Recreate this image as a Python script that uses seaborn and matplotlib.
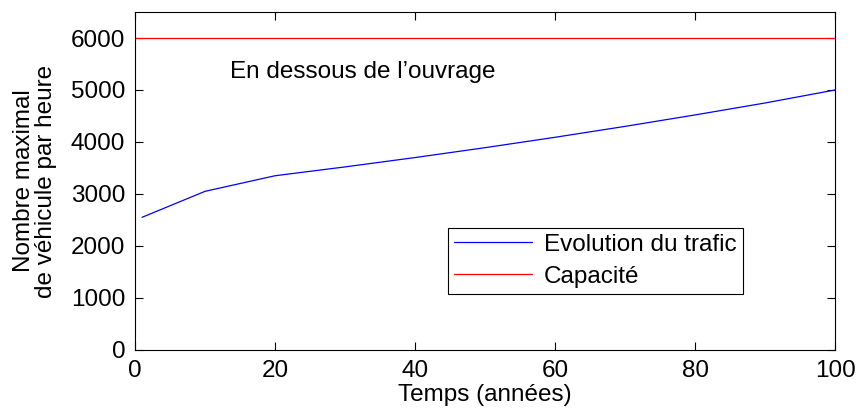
import numpy as np
import pandas as pd
import matplotlib
matplotlib.use("Agg")
import matplotlib.pyplot as plt
import seaborn as sns

# data
annees = [1, 10, 20, 30, 40, 50, 60, 70, 80, 90, 100]
trafic = [2550, 3050, 3350, 3520, 3700, 3890, 4090, 4300, 4520, 4750, 5000]
cap_annees = [0, 100]
capacite = [6000, 6000]

sns.set_style("ticks")
plt.rcParams['font.family'] = ['Liberation Sans', 'DejaVu Sans']
plt.rcParams['text.color'] = 'black'
plt.rcParams['axes.labelcolor'] = 'black'
plt.rcParams['xtick.color'] = 'black'
plt.rcParams['ytick.color'] = 'black'

df_trafic = pd.DataFrame({'annee': annees, 'vehicules': trafic})
df_cap = pd.DataFrame({'annee': cap_annees, 'vehicules': capacite})

fs = 17.5
fig = plt.figure(figsize=(8.6, 4.15), dpi=100)
ax = fig.add_axes([0.157, 0.157, 0.814, 0.814])

sns.lineplot(data=df_trafic, x='annee', y='vehicules', color='blue', lw=0.9,
             label='Evolution du trafic', ax=ax)
sns.lineplot(data=df_cap, x='annee', y='vehicules', color='red', lw=0.9,
             label='Capacité', ax=ax)

ax.set_xlim(0, 100)
ax.set_ylim(0, 6500)
ax.set_xticks([0, 20, 40, 60, 80, 100])
ax.set_yticks([0, 1000, 2000, 3000, 4000, 5000, 6000])
ax.tick_params(direction='in', top=True, right=True, labelsize=fs, length=6,
               width=0.8)
ax.tick_params(axis='x', pad=7)
ax.tick_params(axis='y', pad=7)
for s in ax.spines.values():
    s.set_linewidth(0.8)
    s.set_color('black')

ax.set_xlabel('Temps (années)', fontsize=fs, labelpad=2)
ax.set_ylabel('Nombre maximal\nde véhicule par heure', fontsize=fs, labelpad=10,
              linespacing=1.0)

ax.text(13.5, 5350, 'En dessous de l\u2019ouvrage', fontsize=fs, va='center')

leg = ax.legend(loc='upper left', bbox_to_anchor=(0.447, 0.361), fontsize=fs,
                frameon=True, fancybox=False, edgecolor='black', framealpha=1,
                borderpad=0.25, handlelength=3.2, handletextpad=0.5,
                labelspacing=0.4, borderaxespad=0)
leg.get_frame().set_linewidth(0.8)

fig.savefig('out.png', dpi=100)
